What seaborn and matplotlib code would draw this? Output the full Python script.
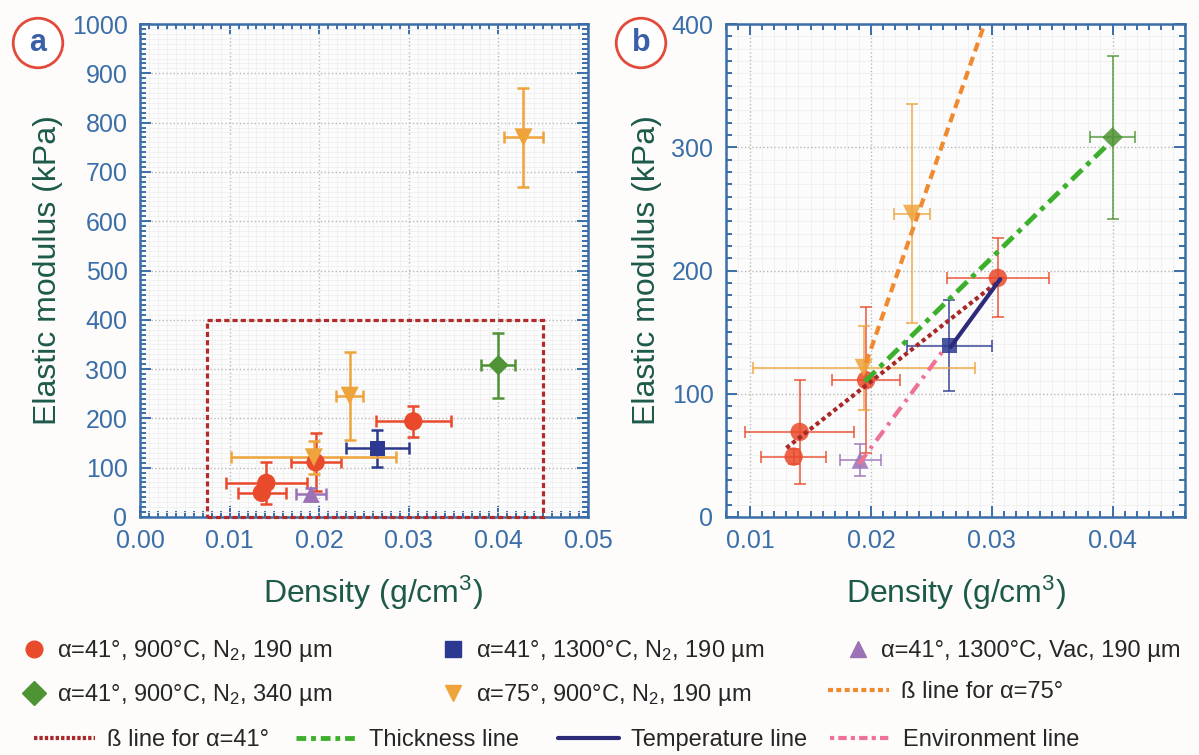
import matplotlib
matplotlib.use('Agg')
import matplotlib.pyplot as plt
from matplotlib import font_manager
from matplotlib.lines import Line2D
from matplotlib.patches import Rectangle
from matplotlib.ticker import MultipleLocator, FormatStrFormatter
import pandas as pd
import seaborn as sns

sns.set_style('ticks')
plt.rcParams['font.family'] = ['Liberation Sans', 'DejaVu Sans']

# values
groups = ['c900', 'c900', 'c900', 'c900', 'c1300', 'vac', 'c340', 'a75', 'a75', 'a75']
density = [0.0136, 0.0141, 0.0196, 0.0305, 0.0265, 0.0191, 0.0400, 0.0194, 0.0234, 0.0428]
density_err = [0.0027, 0.0045, 0.0028, 0.0042, 0.0035, 0.0017, 0.0019, 0.0092, 0.0015, 0.0022]
modulus = [49, 69, 111, 194, 139, 46, 308, 121, 246, 770]
modulus_err = [6, 42, 59, 32, 37, 13, 66, 34, 89, 100]

group_labels = {
    'c900': 'α=41°, 900°C, N$_2$, 190 µm',
    'c1300': 'α=41°, 1300°C, N$_2$, 190 µm',
    'vac': 'α=41°, 1300°C, Vac, 190 µm',
    'c340': 'α=41°, 900°C, N$_2$, 340 µm',
    'a75': 'α=75°, 900°C, N$_2$, 190 µm',
}

# trend lines in panel b
beta41_x = [0.0130, 0.0304]
beta41_y = [56, 190]
beta75_x = [0.0196, 0.0294]
beta75_y = [125, 400]
thick_x = [0.0195, 0.0398]
thick_y = [110, 304]
temp_x = [0.0266, 0.0307]
temp_y = [138, 193]
env_x = [0.0190, 0.0262]
env_y = [43, 138]

df = pd.DataFrame({'group': groups, 'density': density, 'density_err': density_err,
                   'modulus': modulus, 'modulus_err': modulus_err})

colors = {'c900': '#ea4a2c', 'c1300': '#2b3990', 'vac': '#9b72b5',
          'c340': '#4f9434', 'a75': '#eea43a'}
markers = {'c900': 'o', 'c1300': 's', 'vac': '^', 'c340': 'D', 'a75': 'v'}
msize = {'c900': 175, 'c1300': 120, 'vac': 150, 'c340': 110, 'a75': 170}

blue = '#3a6ea8'
label_green = '#1d5a4a'

names = {f.name for f in font_manager.fontManager.ttflist}
narrow = 'Liberation Sans Narrow' if 'Liberation Sans Narrow' in names else 'Liberation Sans'
plt.rcParams['mathtext.fontset'] = 'custom'
plt.rcParams['mathtext.rm'] = narrow
plt.rcParams['mathtext.it'] = narrow

W, H = 1199, 755
fig = plt.figure(figsize=(W / 100, H / 100), dpi=100, facecolor='#fdfcfb')
ax_a = fig.add_axes([140 / W, 1 - 517 / H, 448 / W, 493 / H])
ax_b = fig.add_axes([726 / W, 1 - 517 / H, 459 / W, 493 / H])


def style_axes(ax, xlim, ylim, xmin, ymaj, ymin, xfmt):
    ax.set_xlim(xlim)
    ax.set_ylim(ylim)
    ax.xaxis.set_major_locator(MultipleLocator(0.01))
    ax.xaxis.set_minor_locator(MultipleLocator(xmin))
    ax.yaxis.set_major_locator(MultipleLocator(ymaj))
    ax.yaxis.set_minor_locator(MultipleLocator(ymin))
    ax.xaxis.set_major_formatter(FormatStrFormatter(xfmt))
    ax.tick_params(which='both', direction='in', top=True, right=True,
                   color=blue, width=1.4)
    ax.tick_params(which='major', length=8, labelsize=18, labelcolor=blue, pad=9)
    ax.tick_params(which='minor', length=4.5)
    for s in ax.spines.values():
        s.set_color(blue)
        s.set_linewidth(1.8)
    ax.set_facecolor('#fcfcfc')
    ax.grid(which='minor', color='#efefef', ls='-', lw=0.6)
    ax.grid(which='major', color='#b8b8b8', ls=':', lw=1.0)
    ax.set_axisbelow(True)
    ax.set_xlabel('Density (g/cm$^3$)', fontsize=23, color=label_green, va='center')
    ax.set_ylabel('Elastic modulus (kPa)', fontsize=23, color=label_green, va='center')


def draw_points(ax, lw, alpha):
    for g, sub in df.groupby('group', sort=False):
        ax.errorbar(sub['density'], sub['modulus'], xerr=sub['density_err'],
                    yerr=sub['modulus_err'], fmt='none', ecolor=colors[g],
                    elinewidth=lw, capsize=4.5, capthick=lw, alpha=alpha, zorder=3)
    for g, sub in df.groupby('group', sort=False):
        sns.scatterplot(data=sub, x='density', y='modulus', ax=ax, marker=markers[g],
                        color=colors[g], s=msize[g], edgecolor='none', alpha=alpha,
                        legend=False, zorder=4)


# panel a
style_axes(ax_a, (0, 0.05), (0, 1000), 0.001, 100, 10, '%.2f')
draw_points(ax_a, 1.8, 1.0)
ax_a.add_patch(Rectangle((0.0075, 0), 0.0375, 400, fill=False, ec='#b22a2a', lw=2.3,
                         ls=(0, (1.6, 1.0)), clip_on=False, zorder=6))
ax_a.xaxis.set_label_coords(0.52, -0.154)
ax_a.yaxis.set_label_coords(-0.206, 0.5)

# panel b
style_axes(ax_b, (0.008, 0.046), (0, 400), 0.001, 100, 10, '%.2f')
draw_points(ax_b, 1.2, 0.85)
ax_b.plot(beta41_x, beta41_y, color='#a8282a', lw=3, ls=(0, (1.0, 0.8)), zorder=5)
ax_b.plot(beta75_x, beta75_y, color='#f18a2e', lw=3, ls=(0, (2.2, 1.4)), zorder=5)
ax_b.plot(thick_x, thick_y, color='#3cb02c', lw=3.5, ls=(0, (3.0, 1.3, 1.0, 1.3)), zorder=5)
ax_b.plot(temp_x, temp_y, color='#2e2a7a', lw=3, zorder=5)
ax_b.plot(env_x, env_y, color='#ee7295', lw=3, ls=(0, (3.0, 1.6, 0.8, 1.6)), zorder=5)
ax_b.xaxis.set_label_coords(0.5, -0.154)
ax_b.yaxis.set_label_coords(-0.172, 0.5)

# panel letters
for letter, x in (('a', 38), ('b', 641)):
    fig.text(x / W, 1 - 43 / H, letter, fontsize=22, fontweight='bold', color='#3a5fa6',
             ha='center', va='center',
             bbox=dict(boxstyle='circle,pad=0.32', fc='white', ec='#e24a3b', lw=2))


# legend
def mk(g):
    return Line2D([], [], marker=markers[g], color=colors[g], ls='none', markersize=12)


def ln(c, lw, ls):
    return Line2D([], [], color=c, lw=lw, ls=ls)


legend_items = [
    (mk('c900'), group_labels['c900'], (22, 651), 1.0),
    (mk('c1300'), group_labels['c1300'], (441, 651), 1.0),
    (mk('vac'), group_labels['vac'], (846, 651), 1.0),
    (mk('c340'), group_labels['c340'], (22, 695), 1.0),
    (mk('a75'), group_labels['a75'], (441, 695), 1.0),
    (ln('#f18a2e', 3, (0, (1.2, 0.8))), 'ß line for α=75°', (828, 692), 2.6),
    (ln('#a8282a', 3, (0, (0.8, 0.5))), 'ß line for α=41°', (34, 740), 2.6),
    (ln('#3cb02c', 3.5, (0, (2.0, 1.0, 1.0, 1.0))), 'Thickness line', (296, 740), 2.6),
    (ln('#2e2a7a', 3, '-'), 'Temperature line', (558, 740), 2.6),
    (ln('#ee7295', 3, (0, (1.0, 1.0, 2.0, 1.0))), 'Environment line', (830, 740), 2.6),
]
for h, lab, (x, y), hl in legend_items:
    fig.legend(handles=[h], labels=[lab], loc='center left',
               bbox_to_anchor=(x / W, 1 - y / H), frameon=False, borderpad=0,
               borderaxespad=0, handlelength=hl, handletextpad=0.5,
               prop={'family': narrow, 'size': 17})

fig.savefig('out.png', dpi=100, facecolor=fig.get_facecolor())
